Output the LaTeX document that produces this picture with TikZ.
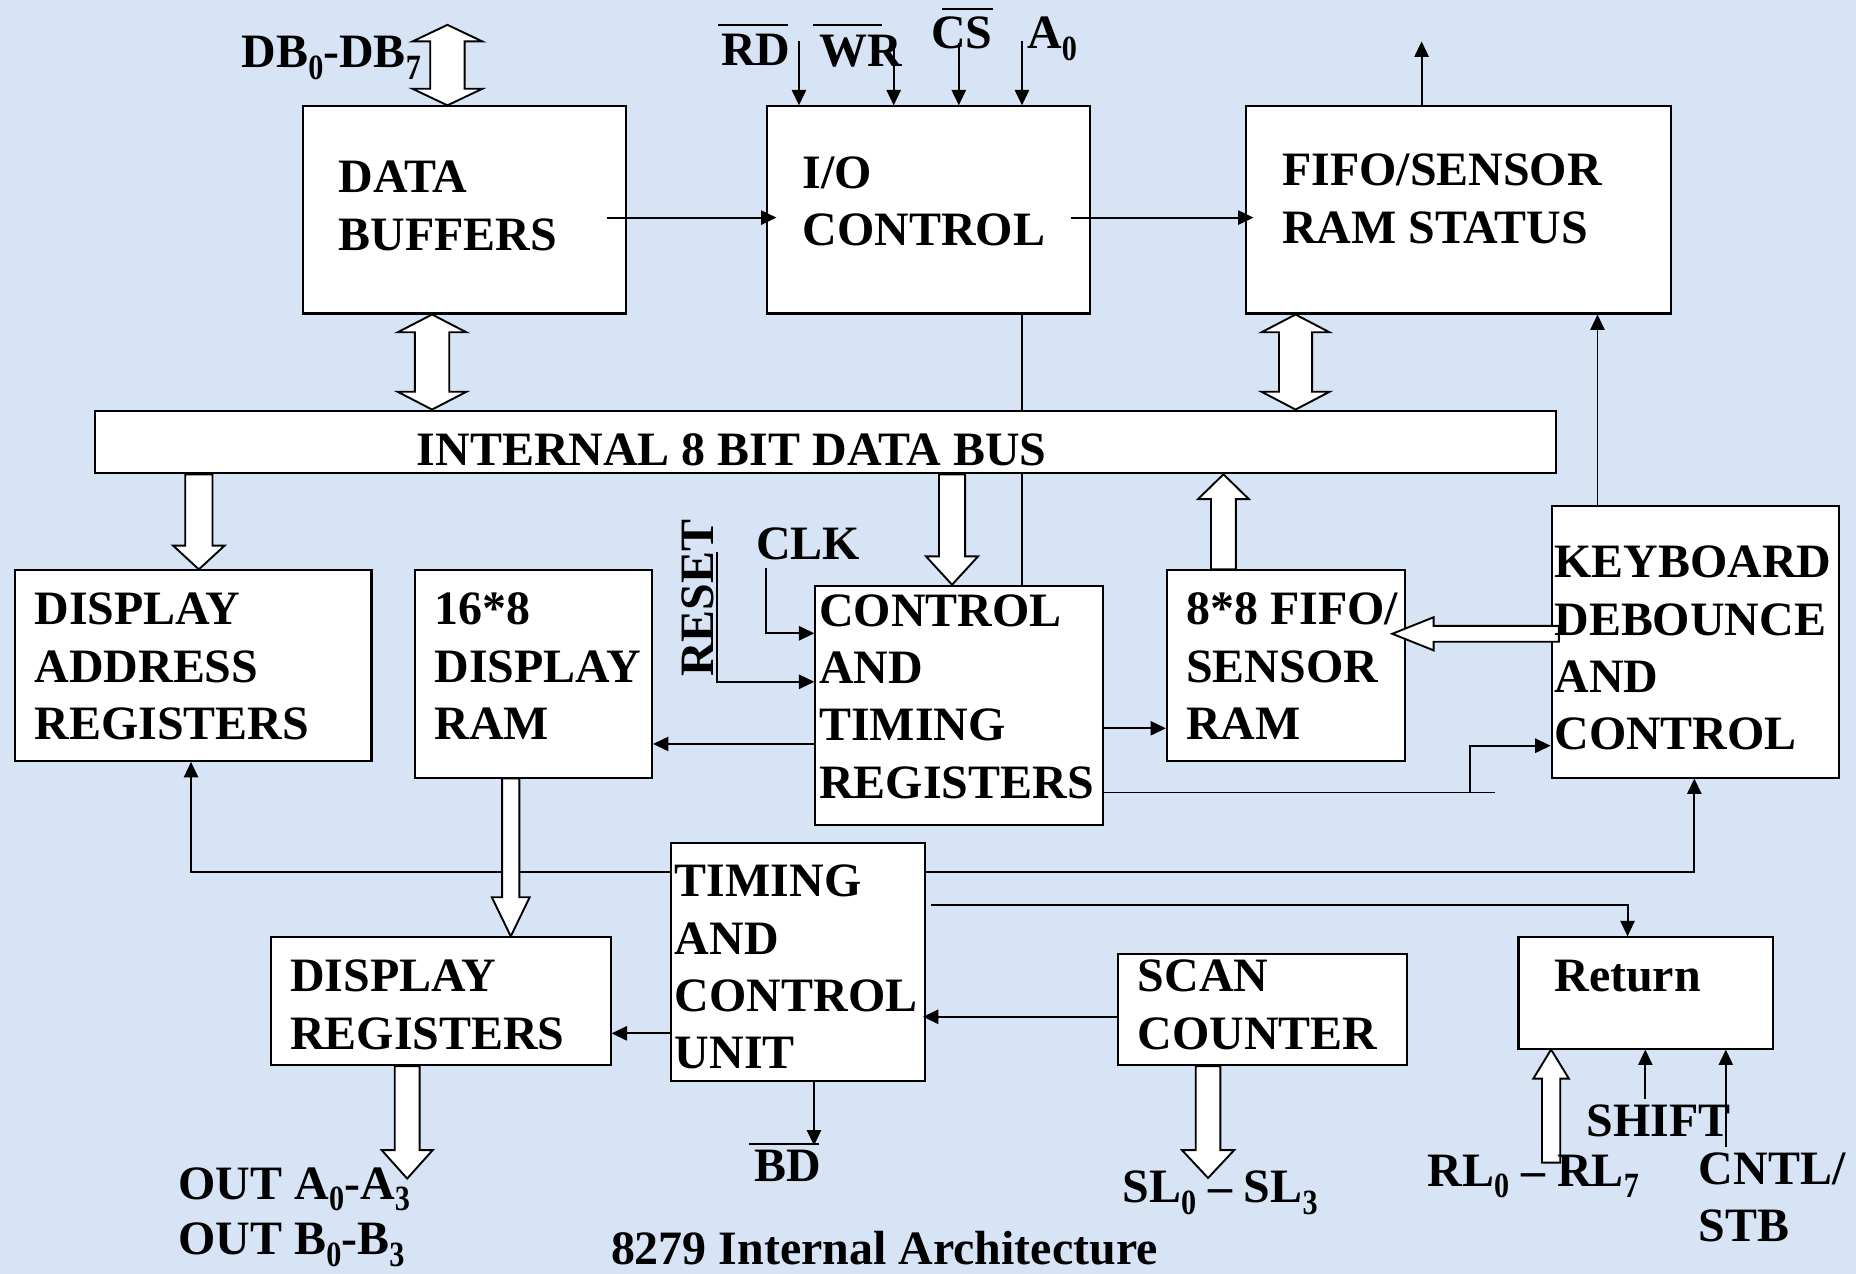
\documentclass[tikz,border=0pt]{standalone}
\usepackage{fontspec}
\setmainfont{Liberation Serif}
\usetikzlibrary{calc,arrows.meta,backgrounds}
\definecolor{slide}{RGB}{214,228,246}

% subscript digit for pin names (tall and narrow)
\newcommand\sbs[1]{\raisebox{-10pt}{\scalebox{0.85}[1]{\fontsize{30}{30}\selectfont #1}}}
% box from its top-left (x1,y1) to bottom-right (x2,y2)
\newcommand\blk[5]{\node[blkst, anchor=north west,
  minimum width={(#4-#2)*1pt}, minimum height={(#5-#3)*1pt}] (#1) at (#2,#3) {};}
% left-aligned lines of box text, first baseline at (x,y)
\newcommand\lines[4]{\foreach \boxline [count=\lineno] in {#4}
  {\node[txt, anchor=base west] (#1-\lineno) at (#2,{#3+48.5*(\lineno-1)}) {\boxline};}}
% hollow block arrow: name, start, tip, shaft half width, head half width, head length
\newcommand\blockarr[6]{%
  \coordinate (#1-h) at ($(#3)!#6!(#2)$);
  \draw[hollow] ($(#2)!#4!90:(#3)$) -- ($(#1-h)!#4!90:(#3)$) -- ($(#1-h)!#5!90:(#3)$) -- (#3)
    -- ($(#1-h)!#5!-90:(#3)$) -- ($(#1-h)!#4!-90:(#3)$) -- ($(#2)!#4!-90:(#3)$) -- cycle;}
% hollow two-headed bus arrow: name, end A, end B, shaft half width, head half width, head length
\newcommand\dblarr[6]{%
  \coordinate (#1-a) at ($(#2)!#6!(#3)$);
  \coordinate (#1-b) at ($(#3)!#6!(#2)$);
  \draw[hollow] (#2) -- ($(#1-a)!#5!90:(#3)$) -- ($(#1-a)!#4!90:(#3)$) -- ($(#1-b)!#4!90:(#3)$)
    -- ($(#1-b)!#5!90:(#3)$) -- (#3) -- ($(#1-b)!#5!-90:(#3)$) -- ($(#1-b)!#4!-90:(#3)$)
    -- ($(#1-a)!#4!-90:(#3)$) -- ($(#1-a)!#5!-90:(#3)$) -- cycle;}

\begin{document}
\begin{tikzpicture}[x=1pt,y=-1pt,
  blkst/.style={draw, fill=white, line width=1.7pt, inner sep=0pt, rectangle},
  txt/.style={inner sep=0pt, font=\bfseries\fontsize{40.5}{48.5}\selectfont},
  wire/.style={line width=1.6pt},
  arr/.style={wire, -{Triangle[length=13pt,width=12pt]}},
  hollow/.style={draw, fill=white, line width=1.6pt, line join=miter},
  ovl/.style={line width=1.8pt}]

\useasboundingbox (0,0) rectangle (1568,1076);

% ---------- blocks ----------
\blk{db}{255}{89}{528}{264}
\blk{io}{647}{89}{920}{264}
\blk{fs}{1052}{89}{1411}{264}
\blk{bus}{79}{346}{1314}{399}
\blk{dar}{12}{481}{313}{642}
\blk{dram}{350}{481}{550}{656}
\blk{ctr}{688}{494}{931}{696}
\blk{fifo}{985}{481}{1186}{642}
\blk{kb}{1310}{427}{1553}{656}
\blk{tcu}{566}{711}{781}{912}
\blk{dreg}{228}{791}{515}{899}
\blk{scan}{944}{805}{1188}{899}
\blk{ret}{1282}{791}{1497}{885}

% ---------- background and the I/O line running behind the bus ----------
\coordinate (ioc) at ([xshift=216.4pt]io.south west);
\begin{scope}[on background layer]
  \fill[slide] (0,0) rectangle (1568,1076);
  \draw[wire] (ioc) -- (ioc |- ctr.north);
\end{scope}

% ---------- external pins of the I/O side ----------
\coordinate (dbin) at (378,21);
\coordinate (dbtop) at (dbin |- db.north);
\dblarr{dbx}{dbin}{dbtop}{14.5pt}{29.5pt}{14pt}

\draw[arr] ([xshift=28pt,yshift=54pt]io.north west) -- ([xshift=28pt]io.north west);
\draw[arr] ([xshift=108pt,yshift=53pt]io.north west) -- ([xshift=108pt]io.north west);
\draw[arr] ([xshift=163pt,yshift=53pt]io.north west) -- ([xshift=163pt]io.north west);
\draw[arr] ([xshift=216.4pt,yshift=54pt]io.north west) -- ([xshift=216.4pt]io.north west);

\draw[arr] ([xshift=-17pt,yshift=-6.5pt]db.east) -- ([xshift=9pt,yshift=-6.5pt]io.west);
\draw[arr] ([xshift=-17pt,yshift=-6.5pt]io.east) -- ([xshift=7pt,yshift=-6.5pt]fs.west);

\coordinate (fsout) at ([xshift=149pt,yshift=54pt]fs.north west);
\draw[arr] (fsout |- fs.north) -- (fsout);

% ---------- internal bus connections ----------
\coordinate (dbbus-a) at ([xshift=110pt]db.south west);
\coordinate (dbbus-b) at (dbbus-a |- bus.north);
\dblarr{dbb}{dbbus-a}{dbbus-b}{14.5pt}{29pt}{15pt}
\coordinate (fsbus-a) at ([xshift=42.5pt]fs.south west);
\coordinate (fsbus-b) at (fsbus-a |- bus.north);
\dblarr{fsb}{fsbus-a}{fsbus-b}{14pt}{28.7pt}{15pt}

\coordinate (bdar-t) at ([xshift=156pt]dar.north west);
\coordinate (bdar-s) at (bdar-t |- bus.south);
\blockarr{bdar}{bdar-s}{bdar-t}{11.5pt}{21.7pt}{20pt}

\coordinate (bctr-t) at ([xshift=116.3pt]ctr.north west);
\coordinate (bctr-s) at (bctr-t |- bus.south);
\blockarr{bctr}{bctr-s}{bctr-t}{11pt}{22pt}{24pt}

\coordinate (fbus-s) at ([xshift=48.6pt]fifo.north west);
\coordinate (fbus-t) at (fbus-s |- bus.south);
\blockarr{fbus}{fbus-s}{fbus-t}{10.5pt}{21.5pt}{21pt}

% ---------- control and timing registers ----------
\coordinate (clk-s) at (647,480);
\coordinate (ctr-clk) at ([yshift=-41pt]ctr.north west);
\draw[arr] (clk-s) |- (ctr-clk);
\coordinate (rst-s) at (606,466);
\coordinate (ctr-rst) at ([yshift=-82pt]ctr.north west);
\draw[arr] (rst-s) |- (ctr-rst);

\coordinate (ctr-d) at ([yshift=-134.5pt]ctr.north west);
\draw[arr] (ctr-d) -- (ctr-d -| dram.east);
\coordinate (ctr-f) at ([yshift=-121.3pt]ctr.north east);
\draw[arr] (ctr-f) -- (ctr-f -| fifo.west);

\coordinate (ctr-k) at ([yshift=-175.5pt]ctr.north east);
\coordinate (kbstub) at (1263,0 |- ctr-k);
\coordinate (kbj) at (1242,0 |- ctr-k);
\coordinate (kb-in) at ([yshift=-203pt]kb.north west);
\draw[wire] (ctr-k) -- (kbstub);
\draw[arr] (kbj) |- (kb-in);

% ---------- keyboard side ----------
\coordinate (kf-s) at ([xshift=7pt,yshift=6.9pt]kb.west);
\coordinate (kf-e) at (kf-s -| fifo.east);
\coordinate (kf-t) at ([xshift=-11.5pt]kf-e);
\blockarr{kfifo}{kf-s}{kf-t}{6.7pt}{14pt}{35pt}

\coordinate (kfs) at ([xshift=39.6pt]kb.north west);
\draw[arr] (kfs) -- (kfs |- fs.south);

% ---------- timing and control unit ----------
\coordinate (tcu-l) at ([yshift=-26pt]tcu.north west);
\coordinate (dar-in) at ([xshift=149.4pt]dar.south west);
\draw[arr] (tcu-l) -| (dar-in);
\coordinate (tcu-r) at ([yshift=-26pt]tcu.north east);
\coordinate (kb-bot) at ([xshift=121.4pt]kb.south west);
\draw[arr] (tcu-r) -| (kb-bot);
\coordinate (tcu-r2) at ([xshift=4pt,yshift=-53.6pt]tcu.north east);
\coordinate (ret-top) at ([xshift=93pt]ret.north west);
\draw[arr] (tcu-r2) -| (ret-top);

\coordinate (scan-l) at ([yshift=-54pt]scan.north west);
\draw[arr, shorten >=-3pt] (scan-l) -- (scan-l -| tcu.east);
\coordinate (tcu-l2) at ([yshift=-162pt]tcu.north west);
\draw[arr] (tcu-l2) -- (tcu-l2 -| dreg.east);

\coordinate (bdo-s) at ([xshift=121.7pt]tcu.south west);
\coordinate (bdo-t) at ([yshift=-54pt]bdo-s);
\draw[arr] (bdo-s) -- (bdo-t);

% ---------- display path ----------
\coordinate (dd-s) at ([xshift=81.5pt]dram.south west);
\coordinate (dd-t) at (dd-s |- dreg.north);
\blockarr{ddr}{dd-s}{dd-t}{7.3pt}{16pt}{33pt}

\coordinate (do-s) at ([xshift=116pt]dreg.south west);
\coordinate (do-t) at ([yshift=-95pt]do-s);
\blockarr{dout}{do-s}{do-t}{10.5pt}{21.5pt}{24pt}

\coordinate (sl-s) at ([xshift=76.6pt]scan.south west);
\coordinate (sl-t) at ([yshift=-94.5pt]sl-s);
\blockarr{slo}{sl-s}{sl-t}{10.4pt}{22pt}{23.5pt}

% ---------- return lines ----------
\coordinate (rl-t) at ([xshift=28.4pt]ret.south west);
\coordinate (rl-s) at ([yshift=-95.5pt]rl-t);
\blockarr{rli}{rl-s}{rl-t}{7.7pt}{15pt}{24.5pt}
\coordinate (sh-t) at ([xshift=108pt]ret.south west);
\coordinate (sh-s) at ([yshift=-41.5pt]sh-t);
\draw[arr] (sh-s) -- (sh-t);
\coordinate (cn-t) at ([xshift=176pt]ret.south west);
\coordinate (cn-s) at ([yshift=-82pt]cn-t);
\draw[arr] (cn-s) -- (cn-t);

% ---------- block texts ----------
\lines{dbt}{286}{163}{DATA,BUFFERS}
\lines{iot}{678}{159}{I/O,CONTROL}
\lines{fst}{1083}{157}{FIFO/SENSOR,RAM STATUS}
\node[txt, anchor=base west] (bust) at (352,393) {INTERNAL 8 BIT DATA BUS};
\lines{dart}{29}{528}{DISPLAY,ADDRESS,REGISTERS}
\lines{dramt}{367}{528}{16*8,DISPLAY,RAM}
\lines{ctrt}{692}{529}{CONTROL,AND,TIMING,REGISTERS}
\lines{fifot}{1002}{528}{8*8 FIFO/,SENSOR,RAM}
\lines{kbt}{1313}{488}{KEYBOARD,DEBOUNCE,AND,CONTROL}
\lines{tcut}{570}{757.5}{TIMING,AND,CONTROL,UNIT}
\lines{dregt}{245}{838}{DISPLAY,REGISTERS}
\lines{scant}{961}{838}{SCAN,COUNTER}
\node[txt, anchor=base west] (rett) at (1313,838) {Return};

% ---------- pin labels ----------
\node[txt, anchor=base west] (dbl) at (204,57) {DB\sbs{0}-DB\sbs{7}};
\node[txt, anchor=base west] (rdl) at (609,55) {RD};
\draw[ovl] ([xshift=-2pt,yshift=34pt]rdl.base west) -- ([xshift=-2pt,yshift=34pt]rdl.base east);
\node[txt, anchor=base west] (wrl) at (692,56) {WR};
\draw[ovl] ([xshift=-5pt,yshift=35pt]wrl.base west) -- ([xshift=53pt,yshift=35pt]wrl.base west);
\node[txt, anchor=base west] (csl) at (786.5,41) {CS};
\draw[ovl] ([xshift=9pt,yshift=33.5pt]csl.base west) -- ([xshift=52pt,yshift=33.5pt]csl.base west);
\node[txt, anchor=base west] (a0l) at (867.6,41) {A\sbs{0}};
\node[txt, anchor=base west] (clkl) at (638.7,473) {CLK};
\node[txt, anchor=base west, rotate=90] (rstl) at (602.6,572) {RESET};
\node[txt, anchor=base west] (bdl) at (637,998) {BD};
\draw[ovl] ([xshift=-4pt,yshift=31.5pt]bdl.base west) -- ([xshift=55pt,yshift=31.5pt]bdl.base west);
\node[txt, anchor=base west] (outa) at (150.7,1013) {OUT A\sbs{0}-A\sbs{3}};
\node[txt, anchor=base west] (outb) at (150.7,1060) {OUT B\sbs{0}-B\sbs{3}};
\node[txt, anchor=base west] (capt) at (516,1068) {8279 Internal Architecture};
\node[txt, anchor=base west] (sll) at (948,1016) {SL\sbs{0} – SL\sbs{3}};
\node[txt, anchor=base west] (rll) at (1205.8,1002) {RL\sbs{0} – RL\sbs{7}};
\node[txt, anchor=base west] (shl) at (1340.4,960) {SHIFT};
\node[txt, anchor=base west] (cnl) at (1435,1001) {CNTL/};
\node[txt, anchor=base west] (stbl) at (1435,1049) {STB};
\end{tikzpicture}
\end{document}
